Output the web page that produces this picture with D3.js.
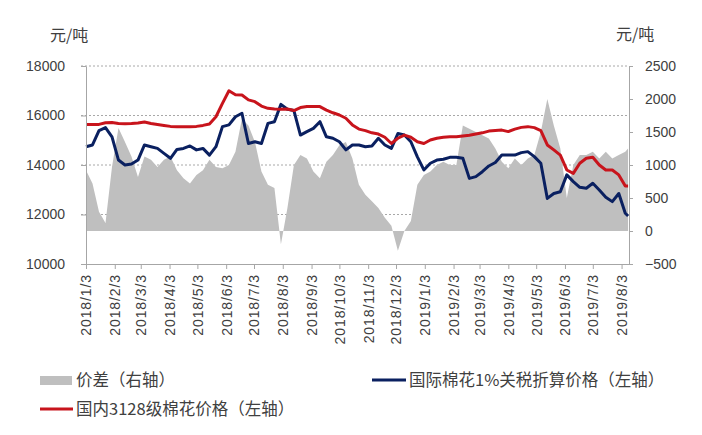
<!DOCTYPE html>
<html>
<head>
<meta charset="utf-8">
<script src="https://cdn.jsdelivr.net/npm/d3@7"></script>
<style>
  body { margin: 0; background: #fff; }
  svg text { fill: #404040; }
</style>
</head>
<body>
<svg id="chart" width="702" height="435"></svg>
<script>
// weekly readings, first point 2018-01-03, last point 2019-08-10
const startDate = "2018-01-03",
      endDate = "2019-08-10";

// 国内3128级棉花价格 (元/吨, left axis)
const domestic = [
  15640, 15640, 15640, 15710, 15720, 15680, 15670, 15680, 15700, 15740,
  15680, 15640, 15600, 15560, 15550, 15550, 15550, 15560, 15600, 15660,
  15950, 16490, 17000, 16840, 16830, 16630, 16560, 16380, 16290, 16260,
  16250, 16260, 16200, 16320, 16360, 16360, 16360, 16220, 16110, 16020,
  15890, 15620, 15450, 15390, 15300, 15250, 15120, 14870, 15080, 15210,
  15120, 14940, 14870, 15010, 15080, 15120, 15140, 15140, 15170, 15200,
  15250, 15300, 15370, 15390, 15410, 15350, 15450, 15520, 15550, 15510,
  15390, 14810, 14610, 14400, 13800, 13660, 14070, 14270, 14310, 14000,
  13800, 13800, 13600, 13150, 13150
];

// 国际棉花1%关税折算价格 (元/吨, left axis)
const international = [
  14740, 14810, 15390, 15510, 15140, 14200, 14000, 14040, 14200, 14810,
  14740, 14670, 14470, 14270, 14630, 14670, 14770, 14610, 14670, 14400,
  14740, 15550, 15620, 15950, 16090, 14870, 14940, 14870, 15680, 15750,
  16450, 16250, 16200, 15210, 15350, 15480, 15750, 15140, 15080, 14940,
  14610, 14810, 14810, 14740, 14770, 15080, 14810, 14670, 15270, 15210,
  14940, 14330, 13800, 14070, 14200, 14230, 14310, 14310, 14270, 13460,
  13530, 13730, 13960, 14100, 14400, 14400, 14400, 14500, 14540, 14340,
  14070, 12650, 12850, 12920, 13600, 13330, 13100, 13060, 13260, 12990,
  12700, 12520, 12850, 12050, 11940
];

// 价差 (元/吨, right axis)
const spread = [
  920, 720, 290, 120, 970, 1560, 1350, 1130, 820, 1130,
  1080, 970, 1080, 1130, 920, 800, 720, 850, 920, 1080,
  970, 950, 1000, 1200, 1700, 1600, 1350, 900, 700, 650,
  -200, 350, 1000, 1150, 1100, 900, 800, 1050, 1150, 1300,
  1350, 1100, 700, 550, 450, 350, 200, 80, -300, 0,
  150, 700, 850, 900, 1000, 1050, 1000, 1000, 1600, 1550,
  1500, 1450, 1400, 1250, 1050, 950, 1100, 1000, 1100, 1150,
  1500, 2000, 1600, 1250, 500, 1000, 1150, 1150, 1200, 1100,
  1200, 1100, 1150, 1200, 1250
];

const monthTicks = ["2018/1/3", "2018/2/3", "2018/3/3", "2018/4/3", "2018/5/3",
  "2018/6/3", "2018/7/3", "2018/8/3", "2018/9/3", "2018/10/3", "2018/11/3",
  "2018/12/3", "2019/1/3", "2019/2/3", "2019/3/3", "2019/4/3", "2019/5/3",
  "2019/6/3", "2019/7/3", "2019/8/3"];
const leftTicks = [10000, 12000, 14000, 16000, 18000];
const rightTicks = [-500, 0, 500, 1000, 1500, 2000, 2500];
const gridTicks = [12000, 14000, 16000, 18000];

const parseDate = d3.timeParse("%Y-%m-%d"),
      parseTick = d3.timeParse("%Y/%m/%d");

const dates = domestic.map(function(d, i) {
  if (i === domestic.length - 1) return parseDate(endDate);
  return d3.timeDay.offset(parseDate(startDate), 7 * i);
});

const rows = dates.map(function(d, i) {
  return {date: d, dom: domestic[i], intl: international[i], spread: spread[i]};
});

const plot = {left: 86, right: 629, top: 66, bottom: 264};
const axisColor = "#a6a6a6",
      tickFont = "'Liberation Sans', Arial, sans-serif",
      cjkFont = "'Noto Sans CJK SC', 'Noto Sans', sans-serif";

const svg = d3.select("#chart");

const x = d3.scaleTime()
  .domain([parseDate("2018-01-03"), parseDate("2019-08-11")])
  .range([plot.left, plot.right]);

const yLeft = d3.scaleLinear()
  .domain([10000, 18000])
  .range([plot.bottom, plot.top]);

const yRight = d3.scaleLinear()
  .domain([-500, 2500])
  .range([plot.bottom, plot.top]);

// dashed gridlines
svg.append("g")
  .selectAll("line")
  .data(gridTicks)
  .join("line")
    .attr("x1", plot.left - 5)
    .attr("x2", plot.right)
    .attr("y1", function(d) { return yLeft(d); })
    .attr("y2", function(d) { return yLeft(d); })
    .attr("stroke", "#a8a8a8")
    .attr("stroke-width", 1)
    .attr("stroke-dasharray", "2,2");

// spread area
const area = d3.area()
  .x(function(d) { return x(d.date); })
  .y0(yRight(0))
  .y1(function(d) { return yRight(d.spread); });

svg.append("path")
  .datum(rows)
  .attr("fill", "#bfbfbf")
  .attr("d", area);

const lineIntl = d3.line()
  .x(function(d) { return x(d.date); })
  .y(function(d) { return yLeft(d.intl); });

const lineDom = d3.line()
  .x(function(d) { return x(d.date); })
  .y(function(d) { return yLeft(d.dom); });

svg.append("path")
  .datum(rows)
  .attr("fill", "none")
  .attr("stroke", "#0a2060")
  .attr("stroke-width", 3)
  .attr("stroke-linejoin", "round")
  .attr("d", lineIntl);

svg.append("path")
  .datum(rows)
  .attr("fill", "none")
  .attr("stroke", "#c8141c")
  .attr("stroke-width", 3)
  .attr("stroke-linejoin", "round")
  .attr("d", lineDom);

// axes
const fmt = d3.format("d");

const gLeft = svg.append("g")
  .attr("transform", "translate(" + plot.left + ",0)")
  .call(d3.axisLeft(yLeft).tickValues(leftTicks).tickFormat(fmt)
    .tickSize(5).tickSizeOuter(0).tickPadding(16));

const gRight = svg.append("g")
  .attr("transform", "translate(" + plot.right + ",0)")
  .call(d3.axisRight(yRight).tickValues(rightTicks).tickFormat(fmt)
    .tickSize(4).tickSizeOuter(0).tickPadding(12));

const gBottom = svg.append("g")
  .attr("transform", "translate(0," + plot.bottom + ")")
  .call(d3.axisBottom(x)
    .tickValues(monthTicks.map(function(t) { return parseTick(t); }))
    .tickFormat(function(d, i) { return monthTicks[i]; })
    .tickSize(5)
    .tickSizeOuter(0));

gBottom.selectAll(".tick text")
  .attr("transform", "rotate(-90)")
  .attr("text-anchor", "end")
  .attr("x", -10)
  .attr("y", 0)
  .attr("dy", "0.35em")
  .style("letter-spacing", "0.9px");

[gLeft, gRight, gBottom].forEach(function(g) {
  g.selectAll(".domain, .tick line").attr("stroke", axisColor);
  g.selectAll(".tick text")
    .style("font-family", tickFont)
    .style("font-size", "14px")
    .attr("fill", "#404040");
});

// unit labels
svg.append("text")
  .attr("x", 50).attr("y", 41)
  .style("font-family", cjkFont)
  .style("font-size", "16px")
  .text("元/吨");

svg.append("text")
  .attr("x", 616).attr("y", 40)
  .style("font-family", cjkFont)
  .style("font-size", "16px")
  .text("元/吨");

// legend
const legend = svg.append("g")
  .style("font-family", cjkFont)
  .style("font-size", "16.5px");

legend.append("rect")
  .attr("x", 40).attr("y", 376)
  .attr("width", 32).attr("height", 9)
  .attr("fill", "#bfbfbf");
legend.append("text")
  .attr("x", 76).attr("y", 386)
  .text("价差（右轴）");

legend.append("line")
  .attr("x1", 372).attr("x2", 406)
  .attr("y1", 380).attr("y2", 380)
  .attr("stroke", "#0a2060").attr("stroke-width", 3);
legend.append("text")
  .attr("x", 409).attr("y", 386)
  .text("国际棉花1%关税折算价格（左轴）");

legend.append("line")
  .attr("x1", 40).attr("x2", 73)
  .attr("y1", 409).attr("y2", 409)
  .attr("stroke", "#c8141c").attr("stroke-width", 3);
legend.append("text")
  .attr("x", 76).attr("y", 415)
  .text("国内3128级棉花价格（左轴）");
</script>
</body>
</html>
